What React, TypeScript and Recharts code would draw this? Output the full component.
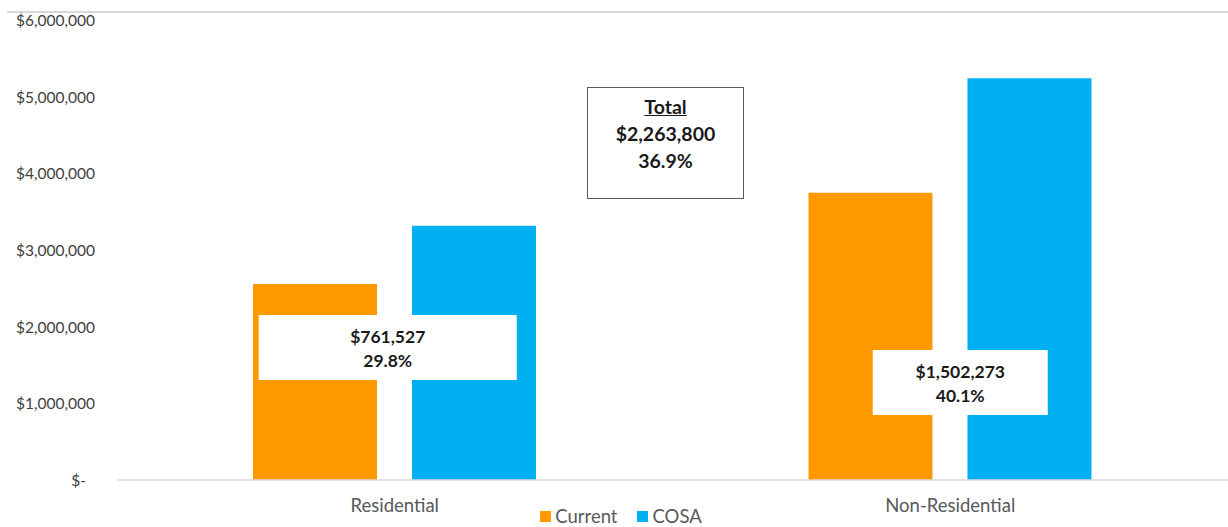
import { BarChart, Bar, XAxis, YAxis, Legend, ReferenceDot } from 'recharts';

const categories = ['Residential', 'Non-Residential'];
const currentValues = [2555000, 3746000];
const cosaValues = [3316500, 5240000];
const yTicks = [0, 1000000, 2000000, 3000000, 4000000, 5000000, 6000000];
const diffLabels = ['$761,527', '$1,502,273'];
const pctLabels = ['29.8%', '40.1%'];
const totalLabel = ['Total', '$2,263,800', '36.9%'];

const data = categories.map((name, i) => ({
  name,
  current: currentValues[i],
  cosa: cosaValues[i],
}));

// where the white difference boxes sit (value axis anchor + pixel size/shift)
const boxLayout = [
  { anchor: 1728000, width: 258, height: 65, dx: -7 },
  { anchor: 1272000, width: 175, height: 65, dx: 10 },
];

const FONT = 'Lato, "Open Sans", sans-serif';
const ORANGE = '#FF9900';
const BLUE = '#00B0F0';

const fmtMoney = (v: number) => (v === 0 ? '$-' : '$' + v.toLocaleString('en-US'));

const YTick = (props: any) => {
  const { x, y, payload } = props;
  const zero = payload.value === 0;
  return (
    <text
      x={zero ? x - 23 : x - 14}
      y={y}
      textAnchor="end"
      dominantBaseline="central"
      fill="#404040"
      fontSize={15.5}
      fontFamily={FONT}
    >
      {fmtMoney(payload.value)}
    </text>
  );
};

const makeBox = (i: number) => (props: any) => {
  const { cx, cy } = props;
  const b = boxLayout[i];
  const left = cx + b.dx - b.width / 2;
  const top = cy - b.height / 2;
  return (
    <g>
      <rect x={left} y={top} width={b.width} height={b.height} fill="#ffffff" />
      <text
        x={cx + b.dx}
        y={cy - 11}
        textAnchor="middle"
        dominantBaseline="central"
        fontSize={17.5}
        fontWeight={700}
        fill="#1a1a1a"
        fontFamily={FONT}
      >
        {diffLabels[i]}
      </text>
      <text
        x={cx + b.dx}
        y={cy + 13}
        textAnchor="middle"
        dominantBaseline="central"
        fontSize={17.5}
        fontWeight={700}
        fill="#1a1a1a"
        fontFamily={FONT}
      >
        {pctLabels[i]}
      </text>
    </g>
  );
};

const LegendContent = () => (
  <div
    style={{
      display: 'flex',
      justifyContent: 'center',
      alignItems: 'center',
      gap: 20,
      height: 22,
      paddingLeft: 14,
      fontFamily: FONT,
      fontSize: 18.5,
      color: '#595959',
    }}
  >
    {[
      { label: 'Current', color: ORANGE },
      { label: 'COSA', color: BLUE },
    ].map((item) => (
      <span key={item.label} style={{ display: 'flex', alignItems: 'center', gap: 4 }}>
        <span style={{ width: 11, height: 11, background: item.color, display: 'inline-block' }} />
        {item.label}
      </span>
    ))}
  </div>
);

export default function App() {
  return (
    <div style={{ position: 'absolute', left: 0, top: 0, width: 1228, height: 527, background: '#fff' }}>
      <div style={{ position: 'absolute', left: 7, top: 11, width: 1221, height: 2, background: '#d9d9d9' }} />
      <BarChart
        width={1228}
        height={527}
        data={data}
        margin={{ top: 20, right: 0, bottom: 0, left: 0 }}
        barSize={124}
        barGap={35}
      >
        <XAxis
          dataKey="name"
          height={25}
          axisLine={{ stroke: '#d9d9d9', strokeWidth: 1.5 }}
          tickLine={false}
          tickMargin={13}
          tick={{ fill: '#595959', fontSize: 18.5, fontFamily: FONT }}
        />
        <YAxis
          width={117}
          domain={[0, 6000000]}
          ticks={yTicks}
          axisLine={false}
          tickLine={false}
          tick={<YTick />}
        />
        <Legend verticalAlign="bottom" height={22} content={<LegendContent />} />
        <Bar dataKey="current" name="Current" fill={ORANGE} isAnimationActive={false} />
        <Bar dataKey="cosa" name="COSA" fill={BLUE} isAnimationActive={false} />
        {categories.map((c, i) => (
          <ReferenceDot
            key={c}
            x={c}
            y={boxLayout[i].anchor}
            r={1}
            ifOverflow="visible"
            shape={makeBox(i)}
          />
        ))}
      </BarChart>
      <div
        style={{
          position: 'absolute',
          left: 587,
          top: 87,
          width: 157,
          height: 112,
          border: '1.5px solid #595959',
          boxSizing: 'border-box',
          fontFamily: FONT,
          fontWeight: 700,
          fontSize: 19.5,
          color: '#1a1a1a',
          textAlign: 'center',
          lineHeight: '27px',
          paddingTop: 5,
        }}
      >
        <div style={{ textDecoration: 'underline' }}>{totalLabel[0]}</div>
        <div>{totalLabel[1]}</div>
        <div>{totalLabel[2]}</div>
      </div>
    </div>
  );
}
